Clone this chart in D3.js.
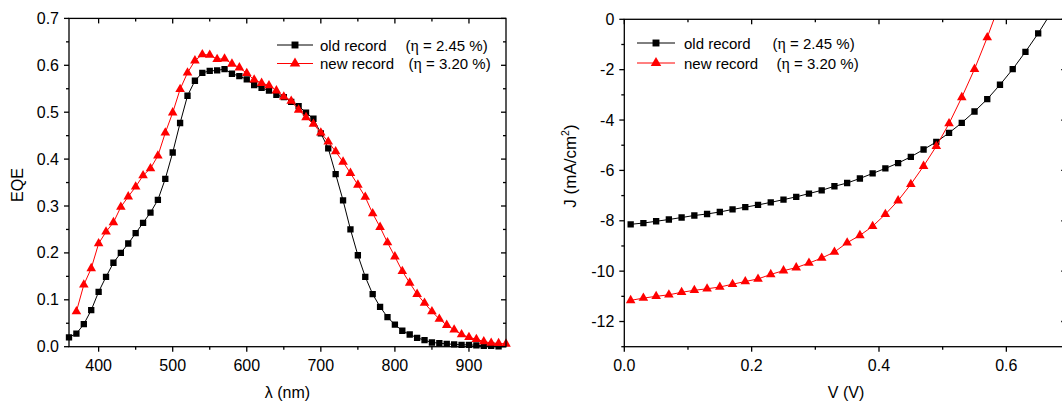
<!DOCTYPE html>
<html>
<head>
<meta charset="utf-8">
<script src="https://cdn.jsdelivr.net/npm/d3@7"></script>
<style>
  html, body { margin: 0; padding: 0; background: #fff; }
  svg { display: block; font-family: "Liberation Sans", Arial, sans-serif; }
</style>
</head>
<body>
<svg id="chart" width="1062" height="403"></svg>
<script>
// ---------------- DATA ----------------
const seriesNames = ["old record", "new record"];
const seriesEta = ["(\u03b7 = 2.45 %)", "(\u03b7 = 3.20 %)"];

// EQE spectra
const wlOld = [360,370,380,390,400,410,420,430,440,450,460,470,480,490,500,510,520,530,540,550,560,570,580,590,600,610,620,630,640,650,660,670,680,690,700,710,720,730,740,750,760,770,780,790,800,810,820,830,840,850,860,870,880,890,900,910,920,930,940];
const eqeOld = [0.020,0.028,0.048,0.078,0.117,0.149,0.179,0.200,0.220,0.242,0.264,0.286,0.313,0.358,0.414,0.477,0.535,0.567,0.584,0.588,0.589,0.592,0.582,0.577,0.570,0.558,0.552,0.546,0.537,0.532,0.522,0.513,0.499,0.486,0.455,0.423,0.368,0.312,0.250,0.195,0.149,0.112,0.085,0.063,0.047,0.034,0.026,0.019,0.014,0.009,0.0075,0.006,0.005,0.004,0.004,0.003,0.002,0.002,0.001];
const wlNew = [370,380,390,400,410,420,430,440,450,460,470,480,490,500,510,520,530,540,550,560,570,580,590,600,610,620,630,640,650,660,670,680,690,700,710,720,730,740,750,760,770,780,790,800,810,820,830,840,850,860,870,880,890,900,910,920,930,940,950];
const eqeNew = [0.075,0.132,0.167,0.220,0.245,0.265,0.298,0.320,0.341,0.365,0.380,0.407,0.456,0.499,0.549,0.584,0.610,0.623,0.622,0.613,0.614,0.603,0.595,0.583,0.569,0.562,0.557,0.546,0.533,0.524,0.505,0.489,0.475,0.456,0.437,0.416,0.394,0.370,0.345,0.319,0.284,0.255,0.222,0.192,0.161,0.136,0.112,0.093,0.075,0.059,0.046,0.036,0.026,0.020,0.016,0.011,0.008,0.007,0.006];

// J-V curves
const vOld = [0.01,0.03,0.05,0.07,0.09,0.11,0.13,0.15,0.17,0.19,0.21,0.23,0.25,0.27,0.29,0.31,0.33,0.35,0.37,0.39,0.41,0.43,0.45,0.47,0.49,0.51,0.53,0.55,0.57,0.59,0.61,0.63,0.65,0.67];
const jOld = [-8.14,-8.09,-8.02,-7.95,-7.87,-7.79,-7.73,-7.65,-7.55,-7.46,-7.37,-7.27,-7.16,-7.05,-6.92,-6.79,-6.63,-6.50,-6.32,-6.12,-5.92,-5.71,-5.46,-5.17,-4.87,-4.51,-4.11,-3.66,-3.17,-2.60,-1.98,-1.29,-0.56,0.25];
const vNew = [0.01,0.03,0.05,0.07,0.09,0.11,0.13,0.15,0.17,0.19,0.21,0.23,0.25,0.27,0.29,0.31,0.33,0.35,0.37,0.39,0.41,0.43,0.45,0.47,0.49,0.51,0.53,0.55,0.57,0.59];
const jNew = [-11.16,-11.07,-11.00,-10.94,-10.84,-10.76,-10.70,-10.63,-10.52,-10.41,-10.31,-10.13,-9.98,-9.86,-9.68,-9.48,-9.24,-8.87,-8.58,-8.22,-7.74,-7.20,-6.55,-5.83,-5.04,-4.14,-3.10,-1.98,-0.72,0.65];

// Ticks
const eqeTicks = [0.0,0.1,0.2,0.3,0.4,0.5,0.6,0.7];
const eqeMinor = [0.05,0.15,0.25,0.35,0.45,0.55,0.65];
const wlTicks = [400,500,600,700,800,900];
const wlMinor = [450,550,650,750,850];
const jTicks = [0,-2,-4,-6,-8,-10,-12];
const jMinor = [-1,-3,-5,-7,-9,-11,-13];
const vTicks = [0.0,0.2,0.4,0.6];
const vMinor = [0.1,0.3,0.5];

// ---------------- DRAW ----------------
const svg = d3.select("#chart");
svg.append("rect").attr("width",1062).attr("height",403).attr("fill","#fff");

const BLACK = "#000", RED = "#ff0000";
const FS = 16;
const hyphen = s => s.replace("\u2212", "-");

function drawPanel(cfg) {
  const {x, y, xTicks, xMinor, yTicks, yMinor, xFmt, yFmt, clipId} = cfg;
  const [x0, x1] = x.range();
  const [y0, y1] = y.range(); // y0 bottom, y1 top
  const g = svg.append("g");

  svg.append("defs").append("clipPath").attr("id", clipId)
    .append("rect").attr("x", x0 - 6).attr("y", y1).attr("width", x1 - x0 + 12).attr("height", y0 - y1 + 6);

  const data = g.append("g").attr("clip-path", `url(#${clipId})`);

  cfg.series.forEach(s => {
    const pts = s.xs.map((v, i) => [v, s.ys[i]]);
    data.append("path")
      .attr("d", d3.line().x(d => x(d[0])).y(d => y(d[1]))(pts))
      .attr("fill", "none").attr("stroke", s.color).attr("stroke-width", 1);
    data.selectAll(null).data(pts).enter().append("path")
      .attr("transform", d => `translate(${x(d[0])},${y(d[1])})`)
      .attr("d", d3.symbol().type(s.symbol).size(s.size))
      .attr("fill", s.color);
  });

  const axG = g.append("g").attr("stroke", "#000").attr("stroke-width", 1.3);
  axG.append("rect").attr("x", x0).attr("y", y1).attr("width", x1 - x0).attr("height", y0 - y1).attr("fill", "none");

  const tl = 5, tm = 3;
  xTicks.forEach(t => {
    const px = x(t);
    axG.append("line").attr("x1", px).attr("x2", px).attr("y1", y0).attr("y2", y0 + tl);
    axG.append("line").attr("x1", px).attr("x2", px).attr("y1", y1).attr("y2", y1 + tl);
  });
  xMinor.forEach(t => {
    const px = x(t);
    axG.append("line").attr("x1", px).attr("x2", px).attr("y1", y0).attr("y2", y0 + tm);
    axG.append("line").attr("x1", px).attr("x2", px).attr("y1", y1).attr("y2", y1 + tm);
  });
  yTicks.forEach(t => {
    const py = y(t);
    axG.append("line").attr("x1", x0 - tl).attr("x2", x0).attr("y1", py).attr("y2", py);
    axG.append("line").attr("x1", x1 - tl).attr("x2", x1).attr("y1", py).attr("y2", py);
  });
  yMinor.forEach(t => {
    const py = y(t);
    axG.append("line").attr("x1", x0 - tm).attr("x2", x0).attr("y1", py).attr("y2", py);
    axG.append("line").attr("x1", x1 - tm).attr("x2", x1).attr("y1", py).attr("y2", py);
  });

  g.selectAll(null).data(xTicks).enter().append("text")
    .attr("x", d => x(d)).attr("y", y0 + 24).attr("text-anchor", "middle")
    .attr("font-size", FS).attr("fill", "#000").text(xFmt);
  g.selectAll(null).data(yTicks).enter().append("text")
    .attr("x", x0 - 10).attr("y", d => y(d) + 5.5).attr("text-anchor", "end")
    .attr("font-size", FS).attr("fill", "#000").text(yFmt);

  const L = cfg.legend;
  cfg.series.forEach((s, i) => {
    const ly = L.y + i * L.dy;
    g.append("line").attr("x1", L.x1).attr("x2", L.x2).attr("y1", ly).attr("y2", ly)
      .attr("stroke", s.color).attr("stroke-width", 1);
    g.append("path").attr("transform", `translate(${(L.x1 + L.x2) / 2},${ly})`)
      .attr("d", d3.symbol().type(s.symbol).size(s.size * 1.2)).attr("fill", s.color);
    g.append("text").attr("x", L.tx).attr("y", ly + 5.5).attr("font-size", 15).attr("fill", "#000").text(seriesNames[i]);
    const t = g.append("text").attr("x", L.px[i]).attr("y", ly + 5.5).attr("font-size", 15).attr("fill", "#000");
    t.append("tspan").text("(");
    t.append("tspan").attr("font-family", "'Liberation Serif', 'Times New Roman', serif").attr("font-size", 16).text("\u03b7");
    t.append("tspan").text(seriesEta[i].slice(2));
  });
  return g;
}

// Left panel: EQE
const xL = d3.scaleLinear().domain([360, 950]).range([69, 506]);
const yL = d3.scaleLinear().domain([0, 0.7]).range([346.7, 18.4]);
drawPanel({
  x: xL, y: yL, clipId: "clipL",
  xTicks: wlTicks, xMinor: wlMinor, yTicks: eqeTicks, yMinor: eqeMinor,
  xFmt: d => d3.format("d")(d), yFmt: d => d3.format(".1f")(d),
  series: [
    {xs: wlOld, ys: eqeOld, color: BLACK, symbol: d3.symbolSquare, size: 40},
    {xs: wlNew, ys: eqeNew, color: RED, symbol: d3.symbolTriangle, size: 40}
  ],
  legend: {x1: 277, x2: 313, tx: 320, px: [405.5, 408.5], y: 45, dy: 18.5}
});
svg.append("text").attr("transform", "translate(23,185) rotate(-90)").attr("text-anchor", "middle")
  .attr("font-size", FS).text("EQE");
svg.append("text").attr("x", 287.5).attr("y", 398).attr("text-anchor", "middle").attr("font-size", FS)
  .text("\u03bb (nm)");

// Right panel: J-V
const xR = d3.scaleLinear().domain([0, 0.694]).range([624.3, 1066.2]);
const yR = d3.scaleLinear().domain([-13, 0]).range([346.7, 19.3]);
drawPanel({
  x: xR, y: yR, clipId: "clipR",
  xTicks: vTicks, xMinor: vMinor, yTicks: jTicks, yMinor: jMinor,
  xFmt: d => d3.format(".1f")(d), yFmt: d => hyphen(d3.format("d")(d)),
  series: [
    {xs: vOld, ys: jOld, color: BLACK, symbol: d3.symbolSquare, size: 40},
    {xs: vNew, ys: jNew, color: RED, symbol: d3.symbolTriangle, size: 40}
  ],
  legend: {x1: 637, x2: 675, tx: 684, px: [772.5, 776.5], y: 43, dy: 20}
});
const jt = svg.append("text").attr("transform", "translate(576,166) rotate(-90)").attr("text-anchor", "middle")
  .attr("font-size", 17);
jt.append("tspan").text("J (mA/cm");
jt.append("tspan").attr("font-size", 10.5).attr("dy", -7).text("2");
jt.append("tspan").attr("dy", 7).text(")");
svg.append("text").attr("x", 846).attr("y", 398).attr("text-anchor", "middle").attr("font-size", FS)
  .text("V (V)");
</script>
</body>
</html>
